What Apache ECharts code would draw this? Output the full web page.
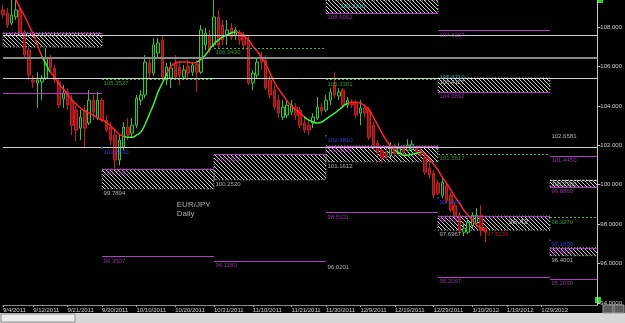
<!DOCTYPE html>
<html>
<head>
<meta charset="utf-8">
<script src="https://cdn.jsdelivr.net/npm/echarts@6/dist/echarts.min.js"></script>
<style>
  html, body { margin: 0; padding: 0; background: #000; }
  #chart { width: 625px; height: 323px; }
</style>
</head>
<body>
<div id="chart"></div>
<script>
// trading days (Sunday bars included, Saturdays and New Year's Day skipped)
const categories = []
for (let d = new Date(2011, 8, 4); categories.length < 139; d.setDate(d.getDate() + 1)) {
  if (d.getDay() === 6) continue
  if (d.getMonth() === 0 && d.getDate() === 1) continue
  categories.push(d.getMonth() + 1 + '/' + d.getDate() + '/' + d.getFullYear())
}

const xTickLabels = [
  '9/4/2011', '9/12/2011', '9/21/2011', '9/30/2011', '10/10/2011', '10/20/2011',
  '10/31/2011', '11/10/2011', '11/21/2011', '11/30/2011', '12/9/2011', '12/19/2011',
  '12/29/2011', '1/10/2012', '1/19/2012', '1/29/2012', '2/7/2012',
]
const yTicks = [94, 96, 98, 100, 102, 104, 106, 108]
const yTickLabels = ['94.0000', '96.0000', '98.0000', '100.000', '102.000', '104.000', '106.000', '108.000']
const yMin = 93.9
const yMax = 109.37

// [open, close, low, high]
const candles = [
  [108.86, 108.61, 108.46, 109.12], [108.71, 108.10, 107.95, 108.96], [108.20, 108.61, 108.10, 109.37],
  [108.51, 108.86, 108.36, 109.37], [108.86, 107.75, 107.59, 109.12], [107.75, 106.58, 106.43, 107.85],
  [106.83, 105.56, 105.31, 106.93], [105.31, 105.21, 104.90, 105.56], [105.16, 105.31, 103.89, 105.71],
  [105.21, 105.41, 104.29, 105.56], [105.41, 106.43, 105.31, 106.93], [106.43, 105.92, 105.71, 106.58],
  [105.92, 105.31, 105.16, 106.07], [105.21, 104.04, 103.89, 105.41], [104.34, 104.65, 103.89, 105.05],
  [104.70, 104.04, 103.79, 104.90], [104.29, 103.02, 102.52, 104.55], [103.79, 102.77, 102.21, 104.04],
  [102.87, 103.43, 102.26, 103.79], [103.79, 102.87, 101.91, 104.04], [103.13, 104.29, 103.02, 104.80],
  [104.29, 103.68, 103.28, 104.55], [103.38, 104.29, 103.28, 104.70], [104.29, 103.28, 103.18, 104.39],
  [103.28, 102.77, 102.67, 103.53], [102.92, 102.26, 102.01, 103.18], [102.52, 101.25, 100.84, 102.77],
  [101.25, 102.26, 100.99, 102.52], [101.91, 102.92, 101.75, 103.18], [102.92, 102.52, 102.26, 103.38],
  [102.62, 103.02, 102.36, 103.38], [103.02, 104.39, 102.87, 104.55], [104.29, 104.55, 104.04, 104.80],
  [104.55, 106.22, 104.39, 106.58], [106.17, 105.66, 105.31, 106.43], [105.66, 107.09, 105.51, 107.44],
  [106.68, 107.19, 106.43, 107.44], [107.34, 105.46, 105.31, 107.59], [105.31, 105.97, 105.05, 106.17],
  [105.41, 105.92, 104.90, 106.22], [106.17, 105.46, 105.31, 106.58], [105.97, 105.56, 105.05, 106.22],
  [105.46, 105.82, 105.31, 106.07], [106.02, 105.66, 105.41, 106.32], [105.71, 106.07, 105.51, 106.22],
  [106.12, 105.71, 104.70, 106.32], [105.71, 107.85, 105.61, 108.10], [107.09, 107.70, 106.83, 107.95],
  [107.59, 106.83, 106.68, 107.85], [107.09, 108.51, 106.98, 110.00], [108.51, 107.09, 106.93, 108.86],
  [108.10, 107.34, 107.09, 108.36], [107.59, 107.85, 107.09, 108.36], [107.95, 107.49, 107.34, 108.20],
  [107.59, 107.85, 107.34, 108.00], [107.70, 107.34, 107.09, 107.85], [107.59, 107.09, 106.83, 107.75],
  [107.34, 105.16, 105.05, 107.59], [105.16, 105.66, 104.80, 105.82], [105.56, 106.22, 105.41, 106.43],
  [106.48, 106.22, 105.82, 106.73], [106.32, 104.90, 104.80, 106.58], [105.31, 104.55, 104.39, 105.51],
  [104.80, 103.94, 103.79, 105.05], [104.29, 103.63, 103.38, 104.55], [103.43, 103.94, 103.28, 104.29],
  [103.53, 104.04, 103.38, 104.29], [103.68, 104.04, 103.53, 104.29], [103.94, 103.53, 103.28, 104.14],
  [103.79, 103.02, 102.87, 103.94], [103.13, 102.77, 102.62, 103.38], [103.02, 102.77, 102.52, 103.28],
  [103.13, 103.43, 102.87, 103.63], [103.38, 103.94, 103.28, 104.45], [103.94, 103.73, 103.53, 104.14],
  [103.79, 104.29, 103.68, 104.55], [104.29, 104.70, 104.04, 104.90], [105.05, 104.55, 104.39, 105.71],
  [104.50, 104.70, 104.29, 104.90], [104.80, 104.04, 103.89, 104.90], [104.04, 104.29, 103.89, 104.45],
  [104.19, 104.04, 103.89, 104.34], [104.14, 103.53, 103.38, 104.29], [103.63, 103.89, 103.02, 104.29],
  [103.89, 103.63, 103.38, 104.09], [103.79, 102.41, 102.26, 103.94], [103.02, 102.01, 101.75, 103.18],
  [102.11, 101.65, 101.40, 102.26], [101.75, 101.35, 101.14, 101.91], [101.65, 101.40, 101.25, 102.01],
  [101.50, 101.85, 101.35, 102.16], [101.85, 101.60, 101.40, 102.06], [101.65, 101.85, 101.50, 102.11],
  [101.85, 101.65, 101.45, 102.01], [101.75, 102.01, 101.65, 102.31], [101.80, 102.06, 101.70, 102.26],
  [101.85, 101.65, 101.50, 102.01], [101.75, 101.50, 101.35, 101.91], [101.35, 100.64, 100.49, 101.50],
  [100.84, 100.49, 100.33, 101.09], [100.59, 99.47, 99.31, 100.74], [100.08, 99.57, 99.47, 100.23],
  [99.47, 100.13, 99.31, 100.33], [99.97, 99.21, 99.06, 100.13], [99.47, 98.71, 98.60, 99.62],
  [98.96, 98.45, 98.30, 99.11], [98.45, 97.69, 97.54, 98.60], [97.59, 97.79, 97.39, 98.09],
  [97.59, 98.09, 97.49, 98.30], [97.94, 98.45, 97.79, 98.60], [98.04, 98.45, 97.89, 98.81],
  [98.45, 97.69, 97.39, 98.96], [97.80, 97.59, 97.08, 97.85],
]
const lastPrice = 97.593

// smoothed average, drawn green on the rising stretches
const smoothLine = [
  110.6, 110.1, 109.7, 109.37, 108.96, 108.56, 108.10, 107.64, 107.09, 106.53,
  106.12, 105.71, 105.46, 105.10, 104.85, 104.60, 104.29, 104.09, 103.89, 103.73,
  103.63, 103.53, 103.38, 103.28, 103.18, 102.97, 102.77, 102.56, 102.46, 102.41,
  102.41, 102.52, 102.67, 103.07, 103.58, 104.09, 104.70, 105.16, 105.61, 106.02,
  106.17, 106.22, 106.22, 106.22, 106.17, 106.22, 106.37, 106.58, 106.88, 107.14,
  107.34, 107.49, 107.59, 107.70, 107.75, 107.70, 107.54, 107.34, 107.03, 106.78,
  106.48, 106.12, 105.66, 105.21, 104.85, 104.55, 104.24, 103.99, 103.79, 103.63,
  103.43, 103.28, 103.18, 103.13, 103.18, 103.33, 103.48, 103.63, 103.79, 103.99,
  104.14, 104.19, 104.19, 104.14, 103.99, 103.79, 103.43, 103.02, 102.62, 102.26,
  101.96, 101.75, 101.60, 101.50, 101.50, 101.55, 101.60, 101.65, 101.55, 101.30,
  101.04, 100.74, 100.38, 100.08, 99.72, 99.37, 99.06, 98.71, 98.45, 98.20,
  97.94, 97.79, 97.64,
]
const greenRanges = [[9, 11], [28, 38], [45, 54], [70, 80], [91, 97]]

// pivot periods start at these bars
const periodStarts = [0, 23, 49, 75, 101, 127, 138]
const fullLines = [107.59, 106.43, 105.41, 101.91]
const trendLine = [[53, 109.4], [138, 102.77]]
// [period, price]
const magentaLevels = [[0, 104.65], [1, 96.3507], [2, 96.118], [3, 98.5931], [4, 107.8157], [4, 95.3067], [5, 101.445], [5, 95.209]]
const greenLevels = [[1, 105.3527], [2, 106.943], [3, 105.3301], [4, 101.5617], [5, 98.327]]
const blueLevels = [[1, 101.883], [3, 102.481], [4, 99.346], [5, 97.18]]
const whiteLevels = [[3, 96.0201], [5, 102.6581]]
// [period, top, bottom, kind]  s = support, r = resistance
const zones = [
  [0, 107.70, 106.98, 's'], [1, 100.788, 99.7894, 's'], [2, 101.532, 100.252, 's'],
  [3, 101.9625, 101.1612, 's'], [3, 109.9, 108.6992, 'r'], [4, 105.4117, 104.6892, 'r'],
  [4, 98.4051, 97.6967, 's'], [5, 100.23, 99.886, 'r'], [5, 96.80, 96.4001, 's'],
]
// free text: [bar, price, text, colour, size]
const notes = [
  [40, 99.25, 'EUR/JPY', 'white', 8], [40, 98.78, 'Daily', 'white', 8],
  [117, 98.40, '98.42', 'white', 8], [101, 105.70, '105.6710', 'cyan', 6],
  [75, 109.45, '109.4593', 'white', 6], [78, 109.30, '109.2210', 'cyan', 6],
  [112, 97.70, '97.6236', 'red', 6],
]

const colors = {
  white: '#d8d8d8', magenta: '#b43cc4', green: '#3fb83f', blue: '#3a4cff',
  cyan: '#3fd0d0', red: '#e02020',
}
const font = 'Liberation Sans'

const hatch = document.createElement('canvas')
hatch.width = 4
hatch.height = 4
const hctx = hatch.getContext('2d')
hctx.strokeStyle = '#d0d0d0'
hctx.lineWidth = 1
hctx.beginPath()
hctx.moveTo(-1, -1); hctx.lineTo(5, 5)
hctx.moveTo(-1, 3); hctx.lineTo(1, 5)
hctx.moveTo(3, -1); hctx.lineTo(5, 1)
hctx.stroke()

const seg = (p, price, lineStyle) => [
  { coord: [periodStarts[p], price], lineStyle },
  { coord: [periodStarts[p + 1], price] },
]
const magentaStyle = { color: colors.magenta, width: 1, type: 'solid' }
const greenStyle = { color: colors.green, width: 1, type: [2, 2] }
const whiteDash = { color: '#e8e8e8', width: 1, type: [2, 2] }

const lineData = []
fullLines.forEach((p, i) =>
  lineData.push([
    { coord: [0, p], lineStyle: { color: i === 1 ? '#8a8a8a' : '#d0d0d0', width: i === 1 ? 2 : 1, type: 'solid' } },
    { coord: [138, p] },
  ])
)
lineData.push([{ coord: trendLine[0], lineStyle: { color: '#e0e0e0', width: 1, type: 'solid' } }, { coord: trendLine[1] }])
magentaLevels.forEach(([p, v]) => lineData.push(seg(p, v, magentaStyle)))
greenLevels.forEach(([p, v]) => lineData.push(seg(p, v, greenStyle)))

const areaData = []
const labelData = []
const addLabel = (p, v, color) => {
  if (p === 0 || v > yMax) return
  labelData.push({ value: [periodStarts[p], v], label: { formatter: v.toFixed(4), color } })
}
zones.forEach(([p, top, bottom, kind]) => {
  const t = Math.min(top, yMax)
  areaData.push([{ coord: [periodStarts[p], t] }, { coord: [periodStarts[p + 1], bottom] }])
  if (kind === 's') {
    lineData.push(seg(p, t, magentaStyle))
    addLabel(p, top, colors.magenta)
    addLabel(p, bottom, colors.white)
  } else {
    if (top <= yMax) lineData.push(seg(p, t, whiteDash))
    lineData.push(seg(p, bottom, magentaStyle))
    addLabel(p, top, colors.white)
    addLabel(p, bottom, colors.magenta)
  }
})
magentaLevels.forEach(([p, v]) => addLabel(p, v, colors.magenta))
greenLevels.forEach(([p, v]) => addLabel(p, v, colors.green))
blueLevels.forEach(([p, v]) => addLabel(p, v, colors.blue))
whiteLevels.forEach(([p, v]) => addLabel(p, v, colors.white))
notes.forEach(([x, v, text, c, size]) =>
  labelData.push({ value: [x, v], label: { formatter: text, color: colors[c], fontSize: size } })
)

const chart = echarts.init(document.getElementById('chart'))

const option = {
  animation: false,
  backgroundColor: '#000',
  grid: { left: 0, right: 24, top: 0, bottom: 18 },
  xAxis: {
    type: 'category',
    data: categories,
    boundaryGap: false,
    axisLine: { lineStyle: { color: '#8a8a8a', width: 1 } },
    axisTick: {
      show: true,
      length: 2,
      interval: (i, v) => xTickLabels.includes(v),
      lineStyle: { color: '#aaa' },
    },
    axisLabel: {
      interval: (i, v) => xTickLabels.includes(v),
      showMaxLabel: false,
      align: 'left',
      margin: 2,
      color: '#d0d0d0',
      fontSize: 6,
      fontFamily: font,
    },
    splitLine: { show: false },
  },
  yAxis: {
    type: 'value',
    position: 'right',
    min: yMin,
    max: yMax,
    axisLine: { show: true, lineStyle: { color: '#c8c8c8' } },
    axisTick: { show: true, length: 3, customValues: yTicks, lineStyle: { color: '#c8c8c8' } },
    axisLabel: {
      customValues: yTicks,
      formatter: (v) => yTickLabels[yTicks.indexOf(v)] || '',
      margin: 3,
      color: '#d0d0d0',
      fontSize: 6,
      fontFamily: font,
    },
    splitLine: { show: false },
  },
  visualMap: {
    show: false,
    type: 'piecewise',
    seriesIndex: 2,
    dimension: 0,
    pieces: greenRanges.map(([a, b]) => ({ gte: a, lte: b, color: '#3cf23c' })),
    outOfRange: { color: '#ff2424' },
  },
  series: [
    {
      name: 'levels',
      type: 'line',
      data: [],
      silent: true,
      markArea: {
        silent: true,
        itemStyle: {
          color: { image: hatch, repeat: 'repeat' },
          borderColor: '#bdbdbd',
          borderWidth: 1,
          borderType: [1, 2],
        },
        data: areaData,
      },
      markLine: {
        silent: true,
        symbol: ['none', 'none'],
        label: { show: false },
        data: lineData,
      },
    },
    {
      name: 'EUR/JPY',
      type: 'candlestick',
      data: candles,
      barWidth: 3,
      itemStyle: {
        color: '#062006',
        color0: '#8e1212',
        borderColor: '#3fbf3f',
        borderColor0: '#c42222',
        borderWidth: 1,
      },
      markLine: {
        silent: true,
        symbol: ['none', 'none'],
        lineStyle: { opacity: 0 },
        label: {
          position: 'end',
          distance: 2,
          formatter: lastPrice.toFixed(4),
          color: '#000',
          backgroundColor: '#f4f4f4',
          padding: [1, 2],
          fontSize: 6,
          fontFamily: font,
        },
        data: [{ yAxis: lastPrice }],
      },
    },
    {
      name: 'smooth',
      type: 'line',
      data: smoothLine,
      smooth: true,
      showSymbol: false,
      lineStyle: { width: 1.5 },
      z: 4,
    },
    {
      name: 'labels',
      type: 'scatter',
      data: labelData,
      symbolSize: 1,
      itemStyle: { color: 'transparent' },
      silent: true,
      z: 5,
      label: {
        show: true,
        position: [2, 2],
        fontSize: 6,
        fontFamily: font,
      },
    },
    {
      name: 'dots',
      type: 'scatter',
      data: blueLevels.map(([p, v]) => [periodStarts[p], v]),
      symbolSize: 2,
      itemStyle: { color: colors.blue },
      silent: true,
      z: 5,
    },
  ],
  graphic: [
    { type: 'rect', shape: { x: 0, y: 313, width: 625, height: 10 }, style: { fill: '#d6d6d6' } },
    { type: 'rect', shape: { x: 1, y: 314, width: 74, height: 8 }, style: { fill: '#eeeeee', stroke: '#8c8c8c' } },
    { type: 'rect', shape: { x: 603, y: 305, width: 10, height: 8 }, style: { fill: '#5a5a5a', stroke: '#9a9a9a' } },
    { type: 'rect', shape: { x: 614, y: 305, width: 10, height: 8 }, style: { fill: '#5a5a5a', stroke: '#9a9a9a' } },
    { type: 'rect', shape: { x: 595, y: 297, width: 6, height: 6 }, style: { fill: '#22dd22' } },
    { type: 'rect', shape: { x: 598, y: 0, width: 5, height: 3 }, style: { fill: '#22dd22' } },
  ],
}

chart.setOption(option)
</script>
</body>
</html>
